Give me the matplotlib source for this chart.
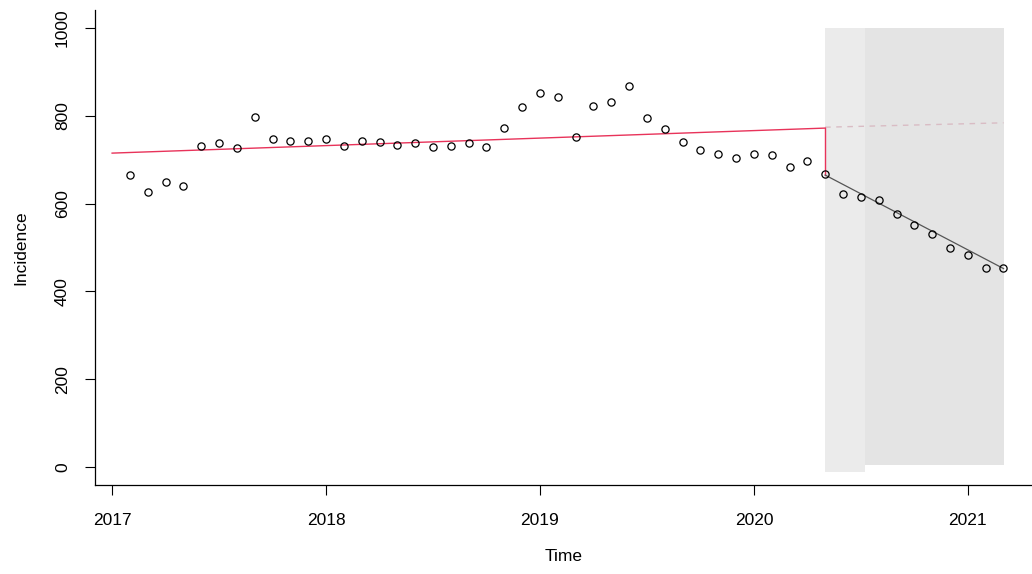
import numpy as np
import matplotlib.pyplot as plt

plt.rcParams['font.family'] = ['Liberation Sans', 'DejaVu Sans']

# monthly observations, Feb 2017 .. Mar 2021
start_year = 2017
months = np.arange(1, 51)
incidence = [665, 626, 649, 640, 731, 738, 727, 797, 747, 743, 743, 747,
             731, 743, 740, 733, 738, 729, 731, 738, 729, 772, 820, 852,
             843, 752, 822, 831, 868, 795, 770, 740, 722, 713, 704, 713,
             711, 683, 697, 667, 622, 615, 608, 576, 551, 531, 499, 483,
             453, 453]

# fitted segments of the interrupted time series
pre_time = [2017.0, 2020.333]
pre_fit = [715, 772]
post_time = [2020.333, 2021.167]
post_fit = [665, 452]
cf_fit = [774, 784]
shade_time = [2020.333, 2021.167]
shade_split = 2020.52
shade_y = [-12, 1000]

time = start_year + months / 12.0

fig = plt.figure(figsize=(10.32, 5.74), dpi=100)
ax = fig.add_axes([95 / 1032, 1 - 485 / 574, 1 - 95 / 1032, (485 - 10) / 574])

# shaded post-intervention window (lighter strip at its start)
ax.fill_between([shade_time[0], shade_split], shade_y[0], shade_y[1], color='#ebebeb', lw=0, zorder=1)
ax.fill_between([shade_split, shade_time[1]], 5, shade_y[1], color='#e4e4e4', lw=0, zorder=1)
ax.plot(post_time, cf_fit, color='#d9bcc4', lw=1, ls=(0, (4, 4)), zorder=2)
ax.plot(pre_time, pre_fit, color='#e8335a', lw=1, zorder=3)
ax.plot([pre_time[1], pre_time[1]], [pre_fit[1], post_fit[0]], color='#e8335a', lw=1, zorder=3)
ax.plot(post_time, post_fit, color='#555555', lw=0.9, zorder=3)
ax.plot(time, incidence, 'o', mfc='none', mec='black', ms=5.2, mew=0.9, zorder=4)

ax.set_xlim(2016.92, 2021.30)
ax.set_ylim(-41, 1041)
ax.set_xticks([2017, 2018, 2019, 2020, 2021])
ax.set_yticks([0, 200, 400, 600, 800, 1000])
ax.set_yticklabels(['0', '200', '400', '600', '800', '1000'], rotation=90, va='center')
ax.tick_params(axis='both', direction='out', length=7, width=0.8, labelsize=12.5)
ax.tick_params(axis='x', pad=13)
ax.tick_params(axis='y', pad=11)
for s in ['top', 'right']:
    ax.spines[s].set_visible(False)
for s in ['left', 'bottom']:
    ax.spines[s].set_linewidth(0.9)

ax.set_xlabel('Time', fontsize=12.5, labelpad=15)
ax.set_ylabel('Incidence', fontsize=12.5, labelpad=19)

fig.savefig('out.png', dpi=100)
